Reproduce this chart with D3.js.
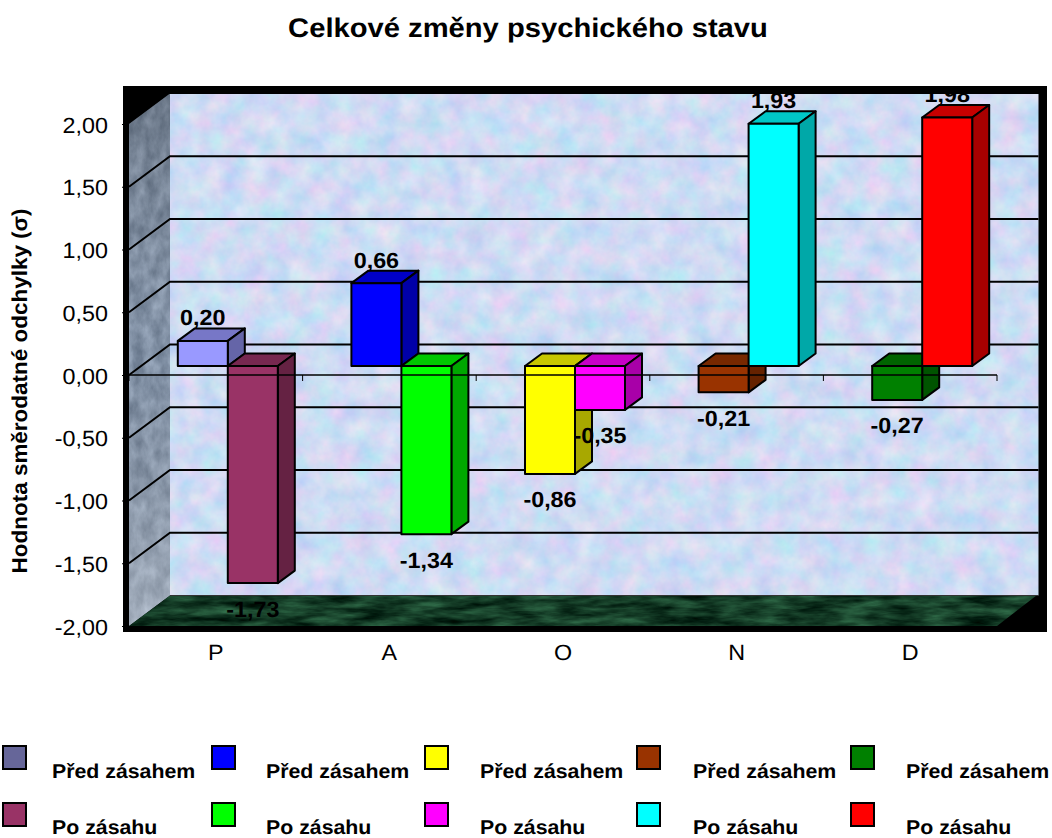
<!DOCTYPE html>
<html><head><meta charset="utf-8">
<style>html,body{margin:0;padding:0;background:#fff}svg{display:block}text{font-family:"Liberation Sans",Arial,sans-serif;fill:#000;text-rendering:geometricPrecision}</style>
<script src="https://cdn.jsdelivr.net/npm/d3@7/dist/d3.min.js"></script></head><body>
<script>
const categories = ["P","A","O","N","D"];
const beforeValues = [0.20,0.66,-0.86,-0.21,-0.27];
const afterValues = [-1.73,-1.34,-0.35,1.93,1.98];
const beforeColors = ["#9999FF","#0000FF","#FFFF00","#993300","#008000"];
const afterColors = ["#993366","#00FF00","#FF00FF","#00FFFF","#FF0000"];
const legendBeforeColors = ["#666699","#0000FF","#FFFF00","#993300","#008000"];
const legendBeforeLabel = "Před zásahem";
const legendAfterLabel = "Po zásahu";
const yTicks = [-2,-1.5,-1,-0.5,0,0.5,1,1.5,2];
const titleText = "Celkové změny psychického stavu";
const yTitle = "Hodnota směrodatné odchylky (σ)";

const W=1052,H=838;
const fmt=v=>d3.format(".2f")(v).replace(".",",").replace("−","-");
const svg=d3.select("body").append("svg").attr("width",W).attr("height",H);
const defs=svg.append("defs");
function texture(id,freq,seed,matrix){
  const f=defs.append("filter").attr("id",id).attr("x",0).attr("y",0).attr("width","100%").attr("height","100%").attr("color-interpolation-filters","sRGB");
  f.append("feTurbulence").attr("type","fractalNoise").attr("baseFrequency",freq).attr("numOctaves",4).attr("seed",seed);
  f.append("feColorMatrix").attr("type","matrix").attr("values",matrix);
  f.append("feComposite").attr("in2","SourceAlpha").attr("operator","in");
}
texture("wallTex","0.045",7,"0.30 0 0 0 0.66  0 0.16 0 0 0.78  0 0 0.05 0 0.93  0 0 0 0 1");
texture("sideTex","0.09 0.05",11,"0.30 0 0 0 0.36  0.30 0 0 0 0.42  0.30 0 0 0 0.50  0 0 0 0 1");
texture("floorTex","0.025 0.12",5,"0.32 0 0 0 -0.08  0.55 0 0 0 -0.04  0.40 0 0 0 -0.05  0 0 0 0 1");
const sideGrad=defs.append("linearGradient").attr("id","sideShade").attr("x1",0).attr("y1",0).attr("x2",0).attr("y2",1);
sideGrad.append("stop").attr("offset",0).attr("stop-color","#000").attr("stop-opacity",0.18);
sideGrad.append("stop").attr("offset",0.5).attr("stop-color","#888").attr("stop-opacity",0);
sideGrad.append("stop").attr("offset",1).attr("stop-color","#fff").attr("stop-opacity",0.28);

function stretchText(sel,k){
  sel.each(function(){
    const w=this.getComputedTextLength();
    d3.select(this).attr("textLength",w*k).attr("lengthAdjust","spacingAndGlyphs");
  });
}

const x=d3.scaleBand().domain(categories).range([129,997]);
const y=d3.scaleLinear().domain([-2,2]).range([626,124]);
const wallDx=41,wallDy=-30.5,rightX=1038.5;
const barDx=17,barDy=-12.5,barBaseShift=-9,barOffset=12,barW=50;
const barY=v=>y(v)+barBaseShift;
const yb=v=>y(v)+wallDy;
const poly=pts=>pts.map(p=>p.join(",")).join(" ");

svg.append("rect").attr("x",123).attr("y",86).attr("width",924).attr("height",546).attr("fill","#000");
svg.append("polygon").attr("points",poly([[129+wallDx,yb(2)],[rightX,yb(2)],[rightX,yb(-2)],[129+wallDx,yb(-2)]])).attr("fill","#fff").attr("filter","url(#wallTex)");
const sidePts=poly([[129,y(2)],[129+wallDx,yb(2)],[129+wallDx,yb(-2)],[129,y(-2)]]);
svg.append("polygon").attr("points",sidePts).attr("fill","#fff").attr("filter","url(#sideTex)");
svg.append("polygon").attr("points",sidePts).attr("fill","url(#sideShade)");
svg.append("polygon").attr("points",poly([[129,y(-2)],[129+wallDx,yb(-2)],[rightX-2,yb(-2)],[997,y(-2)]])).attr("fill","#fff").attr("filter","url(#floorTex)");

const grid=svg.append("g").attr("fill","none").attr("stroke","#000").attr("stroke-width",2);
grid.selectAll("polyline").data(yTicks.filter(t=>t>-2&&t<2)).join("polyline")
  .attr("points",t=>poly([[129,y(t)],[129+wallDx,yb(t)],[rightX,yb(t)]]));
svg.append("line").attr("x1",129+wallDx).attr("x2",rightX).attr("y1",yb(-2)).attr("y2",yb(-2)).attr("stroke","#333").attr("stroke-width",1.2);

const yAxis=d3.axisLeft(y).tickValues(yTicks).tickFormat(fmt).tickSize(7).tickPadding(14);
const gy=svg.append("g").attr("transform","translate(129,0)").call(yAxis);
gy.select(".domain").remove();
gy.selectAll("line").attr("stroke","#000");
gy.selectAll("text").attr("font-size",22).attr("dy",null).attr("y",8).attr("font-family",'"Liberation Sans",Arial,sans-serif').style("fill","#000").call(stretchText,1.06);

svg.append("g").selectAll("text").data(categories).join("text").attr("x",d=>x(d)+x.bandwidth()/2).attr("y",660).attr("text-anchor","middle").attr("font-size",22).text(d=>d).call(stretchText,1.06);

function bar(g,cat,v,col,off){
  const L=x(cat)+x.bandwidth()/2+off, R=L+barW;
  const y0=barY(0), yv=barY(v);
  const top=Math.min(y0,yv), bot=Math.max(y0,yv);
  const c=d3.rgb(col);
  const dark=k=>d3.rgb(c.r*k,c.g*k,c.b*k)+"";
  g.append("polygon").attr("points",poly([[L,top],[L+barDx,top+barDy],[R+barDx,top+barDy],[R,top]])).attr("fill",dark(.78));
  g.append("polygon").attr("points",poly([[R,top],[R+barDx,top+barDy],[R+barDx,bot+barDy],[R,bot]])).attr("fill",dark(.66));
  g.append("rect").attr("x",L).attr("y",top).attr("width",barW).attr("height",bot-top).attr("fill",col);
}
const bars=svg.append("g").attr("stroke","#000").attr("stroke-width",2).attr("stroke-linejoin","round");
categories.forEach((c,i)=>{
  bar(bars,c,beforeValues[i],beforeColors[i],barOffset-barW);
  bar(bars,c,afterValues[i],afterColors[i],barOffset);
});

svg.append("line").attr("x1",129).attr("x2",997).attr("y1",y(0)).attr("y2",y(0)).attr("stroke","#000").attr("stroke-width",1.6);
svg.append("g").selectAll("line").data(d3.range(0,categories.length+1)).join("line")
  .attr("x1",i=>129+i*x.bandwidth()).attr("x2",i=>129+i*x.bandwidth()).attr("y1",y(0)).attr("y2",y(0)+6).attr("stroke","#000");

function lab(cat,v,off){
  const cx=x(cat)+x.bandwidth()/2+off;
  const yy=v>=0?barY(v)-15.5:barY(v)+33.5;
  svg.append("text").attr("x",cx).attr("y",yy).attr("text-anchor","middle").attr("font-size",22).attr("font-weight","bold").text(fmt(v)).call(stretchText,1.06);
}
categories.forEach((c,i)=>{lab(c,beforeValues[i],barOffset-barW/2);lab(c,afterValues[i],barOffset+barW/2);});
svg.append("rect").attr("x",123).attr("y",86).attr("width",924).attr("height",8).attr("fill","#000");

svg.append("text").attr("x",528).attr("y",37).attr("text-anchor","middle").attr("font-size",27).attr("font-weight","bold").text(titleText).call(stretchText,1.08);
svg.append("text").attr("transform","translate(27,391) rotate(-90)").attr("text-anchor","middle").attr("font-size",21.5).attr("font-weight","bold").text(yTitle).call(stretchText,1.045);

const swatchX=[3,212,425,637,851], textX=[52,266,480,693,906];
const leg=svg.append("g");
[[legendBeforeColors,legendBeforeLabel,746,778],[afterColors,legendAfterLabel,803,834]].forEach(([cols,label,sy,ty])=>{
  cols.forEach((col,i)=>{
    leg.append("rect").attr("x",swatchX[i]).attr("y",sy).attr("width",23).attr("height",23).attr("fill",col).attr("stroke","#000").attr("stroke-width",2);
    leg.append("text").attr("x",textX[i]).attr("y",ty).attr("font-size",20).attr("font-weight","bold").text(label).call(stretchText,1.065);
  });
});
</script></body></html>
